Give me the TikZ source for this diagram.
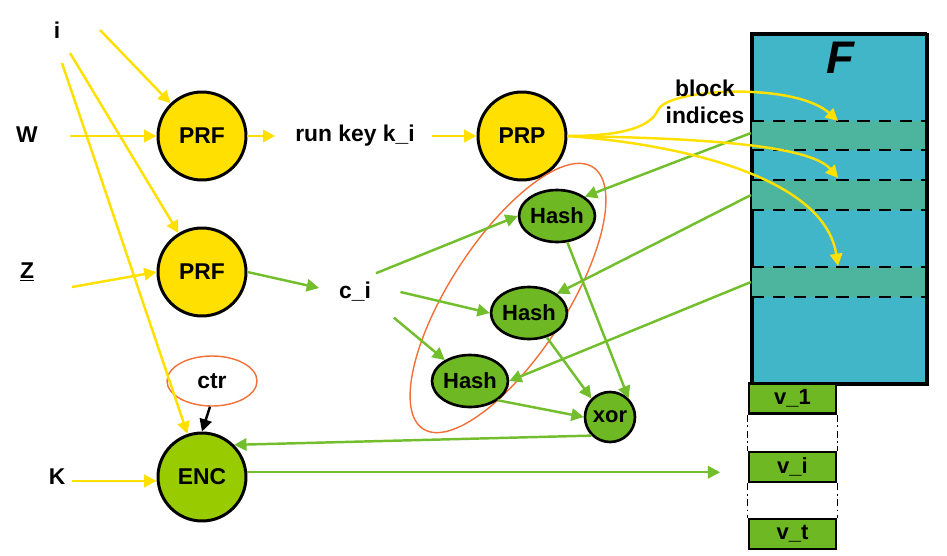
\documentclass[tikz,border=0pt]{standalone}
\usepackage{fontspec}
\setmainfont{Liberation Sans}
\usetikzlibrary{shapes.geometric,arrows.meta}
\definecolor{yel}{HTML}{FFE000}
\definecolor{grn}{HTML}{6DB823}
\definecolor{grnline}{HTML}{72BE2C}
\definecolor{encg}{HTML}{99CC00}
\definecolor{org}{HTML}{F07038}
\definecolor{fblue}{HTML}{41B6C9}
\definecolor{band}{HTML}{4DB59E}
\tikzset{
  lbl/.style={font=\bfseries\fontsize{13}{15}\selectfont, inner sep=1pt},
  bigc/.style={circle, draw=black, line width=1.7pt, minimum size=1.76cm, inner sep=0pt, font=\bfseries\fontsize{13}{15}\selectfont},
  hashn/.style={ellipse, draw=black, line width=1.5pt, fill=grn, minimum width=1.2cm, minimum height=1.04cm, inner sep=0pt, font=\bfseries\fontsize{12.5}{14}\selectfont},
  yarr/.style={draw=yel, line width=1.4pt, -{Triangle[length=7pt,width=7pt]}},
  garr/.style={draw=grnline, line width=1.4pt, -{Triangle[length=7pt,width=7pt]}},
  vbox/.style={rectangle, draw=black, line width=1.5pt, fill=grn, minimum width=1.74cm, minimum height=0.6cm, inner sep=0pt, font=\bfseries\fontsize{12.5}{14}\selectfont},
  dl/.style={black, line width=1.3pt, dash pattern=on 7pt off 5pt},
  ddl/.style={black, line width=0.8pt, dash pattern=on 4pt off 2pt on 1pt off 2pt}
}
\begin{document}
\begin{tikzpicture}[x=0.02cm,y=-0.02cm]
\useasboundingbox (0,0) rectangle (947,555);
% F block
\node[draw=black, line width=1.6pt, fill=fblue, minimum width=3.5cm, minimum height=7cm, inner sep=0pt, anchor=north west] (F) at (751,33) {};
\fill[band] (752,121) rectangle (925,150);
\fill[band] (752,180) rectangle (925,210);
\fill[band] (752,267) rectangle (925,297);
\draw[dl] (752,121) -- (925,121);
\draw[dl] (752,150) -- (925,150);
\draw[dl] (752,180) -- (925,180);
\draw[dl] (752,210) -- (925,210);
\draw[dl] (752,267) -- (925,267);
\draw[dl] (752,297) -- (925,297);
\draw[black, line width=1.6pt] (751,33) rectangle (926,383);
\node[font=\bfseries\itshape\fontsize{26}{30}\selectfont] (Ft) at (840,58) {F};
\coordinate (b1) at (838,121);
\coordinate (b2) at (838,178);
\coordinate (b3) at (838,266);
\coordinate (f1) at (751,133);
\coordinate (f2) at (751,195);
\coordinate (f3) at (751,282);

% v boxes
\node[vbox] (v1) at (792.5,398.5) {v\_1};
\node[vbox] (vi) at (792.5,467) {v\_i};
\node[vbox] (vt) at (792.5,534) {v\_t};
\draw[ddl] (v1.south west) -- (vi.north west);
\draw[ddl] (v1.south east) -- (vi.north east);
\draw[ddl] (vi.south west) -- (vt.north west);
\draw[ddl] (vi.south east) -- (vt.north east);

% inputs
\node[lbl] (i) at (57,30) {i};
\node[lbl] (W) at (27,135) {W};
\node[lbl] (Z) at (27,272) {\underline{Z}};
\node[lbl] (K) at (57,477) {K};
\coordinate (i1) at (100,30);
\coordinate (i2) at (70,53);
\coordinate (i3) at (62,63);
\coordinate (w0) at (70,136);
\coordinate (z0) at (72,287);
\coordinate (k0) at (72,481);

% main nodes
\node[bigc, fill=yel] (prf1) at (202,136) {PRF};
\node[bigc, fill=yel] (prf2) at (202,272) {PRF};
\node[bigc, fill=yel] (prp) at (522,136) {PRP};
\node[bigc, fill=encg] (enc) at (202,477) {ENC};
\node[lbl] (rk) at (355,136) {run key k\_i};
\node[lbl] (ci) at (355,292) {c\_i};

% orange group ellipse
\draw[org, line width=0.8pt, rotate around={57:(508,298)}] (508,298) ellipse (156 and 58);
\node[ellipse, draw=org, line width=0.8pt, minimum width=1.8cm, minimum height=1cm, inner sep=0pt, lbl] (ctr) at (212,381) {ctr};

\node[hashn] (h1) at (557,216) {Hash};
\node[hashn] (h2) at (529,313) {Hash};
\node[hashn] (h3) at (470,381) {Hash};
\node[hashn, minimum width=1.0cm, minimum height=1.0cm] (xor) at (610,417) {xor};

% yellow arrows
\draw[yarr] (i1) -- (prf1);
\draw[yarr] (i2) -- (prf2);
\draw[yarr] (i3) -- (enc);
\draw[yarr] (w0) -- (prf1);
\draw[yarr] (z0) -- (prf2.west);
\draw[yarr] (k0) -- (enc.west |- k0);
\draw[yarr] (prf1.east) -- ([xshift=-0.36cm]rk.west);
\draw[yarr] ([xshift=0.3cm]rk.east) -- (prp.west);

% green arrows
\draw[garr] (prf2.east) -- ([xshift=-0.36cm,yshift=0.08cm]ci.west);
\draw[garr] ([xshift=0.06cm,yshift=0.14cm]ci.north east) -- (h1.west);
\draw[garr] ([xshift=0.55cm]ci.east) -- (h2.west);
\draw[garr] ([xshift=0.42cm,yshift=-0.28cm]ci.south east) -- (h3);
\draw[garr] (h1) -- (xor.north east);
\draw[garr] (h2) -- (xor.north west);
\draw[garr] (h3.south east) -- (xor.west);
\draw[garr] (xor.south west) -- (enc.north east);
\draw[garr] (enc.6) -- ++(473,0) coordinate (ve);
\draw[garr] (f1) -- (h1.north east);
\draw[garr] (f2) -- (h2.north east);
\draw[garr] (f3) -- (h3.east);

% yellow curves from PRP to F
\draw[yarr] (prp.east) .. controls (620,136) and (650,128) .. (658,110) .. controls (668,88) and (795,82) .. (b1);
\draw[yarr] (prp.east) .. controls (700,138) and (810,145) .. (b2);
\draw[yarr] (prp.east) .. controls (690,145) and (825,180) .. (b3);
\node[lbl, align=center, font=\bfseries\fontsize{13}{15.5}\selectfont] (bi) at (705,102) {block\\indices};

% ctr to ENC
\draw[black, line width=1.4pt, -{Triangle[length=7pt,width=7pt]}] ([xshift=-0.04cm]ctr.south) -- (enc.north);
\end{tikzpicture}
\end{document}
